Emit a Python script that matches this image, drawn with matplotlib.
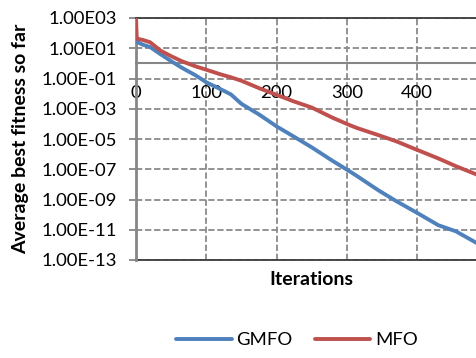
import math
import matplotlib
matplotlib.use("Agg")
import matplotlib.pyplot as plt
from matplotlib.ticker import FixedLocator, FuncFormatter

plt.rcParams['font.family'] = ['Lato', 'DejaVu Sans']

## Data
iterations = [0, 1, 2, 10, 20, 35, 50, 65, 85, 100, 120, 135, 150, 175, 200,
              225, 250, 280, 305, 315, 345, 370, 400, 430, 455, 485, 500]
gmfo = [7.1e1, 4.0e1, 2.5e1, 1.7e1, 1.2e1, 4.0, 1.4, 5.2e-1, 1.6e-1, 5.6e-2,
        2.0e-2, 8.9e-3, 2.1e-3, 4.2e-4, 6.8e-5, 1.4e-5, 2.8e-6, 3.5e-7, 6.8e-8,
        3.4e-8, 4.0e-9, 7.9e-10, 1.3e-10, 2.0e-11, 7.9e-12, 1.3e-12, 5.6e-13]
mfo = [9.5e2, 5.6e1, 4.2e1, 3.5e1, 2.5e1, 6.9, 3.0, 1.4, 6.3e-1, 3.8e-1,
       1.9e-1, 1.2e-1, 7.1e-2, 2.3e-2, 8.3e-3, 3.0e-3, 1.2e-3, 2.5e-4, 7.9e-5,
       5.2e-5, 1.8e-5, 7.1e-6, 1.9e-6, 5.2e-7, 1.6e-7, 4.4e-8, 2.5e-8]

series_names = ["GMFO", "MFO"]
x_ticks = [0, 100, 200, 300, 400]
y_ticks = [1e3, 1e1, 1e-1, 1e-3, 1e-5, 1e-7, 1e-9, 1e-11, 1e-13]

# Colours
blue = '#4F81BD'
red = '#C0504D'
grid_grey = '#8A8A8A'
axis_grey = '#868686'
dark = '#3A3A3A'

fig = plt.figure(figsize=(4.77, 3.58), dpi=100)
ax = fig.add_axes([136 / 477, 1 - 260 / 358, 351.5 / 477, 242 / 358])

ax.plot(iterations, gmfo, color=blue, lw=2.8, solid_capstyle='round',
        solid_joinstyle='round', label=series_names[0], zorder=3)
ax.plot(iterations, mfo, color=red, lw=2.8, solid_capstyle='round',
        solid_joinstyle='round', label=series_names[1], zorder=3)

ax.set_yscale('log')
ax.set_ylim(1e-13, 1e3)
ax.set_xlim(0, 500)

# y axis labels like Excel: 1.00E03, 1.00E-01
def sci_fmt(v, pos):
    exp = int(round(math.log10(v)))
    if exp >= 0:
        return "1.00E%02d" % exp
    return "1.00E-%02d" % (-exp)

ax.yaxis.set_major_locator(FixedLocator(y_ticks))
ax.yaxis.set_major_formatter(FuncFormatter(sci_fmt))
ax.yaxis.set_minor_locator(FixedLocator([]))
ax.tick_params(axis='y', which='major', length=5, width=1.3, color=axis_grey,
               labelsize=13.3, pad=9.0, labelcolor='black')

ax.xaxis.set_major_locator(FixedLocator(x_ticks))
ax.tick_params(axis='x', length=0, labelsize=13.3, pad=15.5, labelcolor='black')

# gridlines
ax.grid(True, which='major', color=grid_grey, lw=1.3, linestyle=(0, (3.5, 1.5)))
ax.set_axisbelow(True)

# spines: horizontal axis crosses at 1
ax.spines['bottom'].set_position(('data', 1))
ax.spines['bottom'].set_color(axis_grey)
ax.spines['bottom'].set_linewidth(1.5)
ax.spines['left'].set_color(axis_grey)
ax.spines['left'].set_linewidth(2.0)
ax.spines['top'].set_color(dark)
ax.spines['top'].set_linewidth(1.3)
ax.spines['right'].set_visible(False)
ax.axhline(1e-13, color=dark, lw=1.3, clip_on=False, zorder=2.5)

ax.set_xlabel("Iterations", fontsize=14, fontweight='bold')
ax.xaxis.set_label_coords(0.5, -0.045)
ax.set_ylabel("Average best fitness so far", fontsize=14, fontweight='bold')
ax.yaxis.set_label_coords(-0.305, 0.5)

fig.legend(loc='center', bbox_to_anchor=(297 / 477, 1 - 340 / 358), ncol=2,
           frameon=False, fontsize=13.3, handlelength=3.0, handletextpad=0.25,
           columnspacing=1.2)

fig.savefig("out.png", dpi=100)
